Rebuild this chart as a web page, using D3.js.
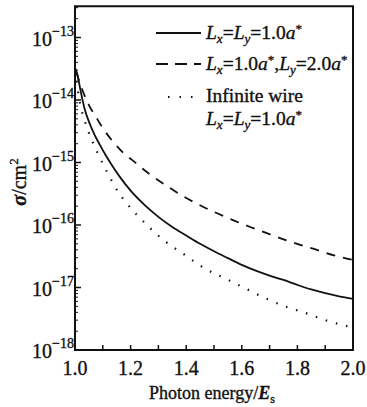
<!DOCTYPE html>
<html><head><meta charset="utf-8">
<script src="https://cdn.jsdelivr.net/npm/d3@7"></script>
<style>body{margin:0;background:#fff}svg{display:block}text{font-family:"Liberation Serif","Times New Roman",serif;fill:#111;stroke:#111;stroke-width:0.35px}</style>
</head><body>
<svg id="c" width="367" height="407"></svg>
<script>
const xTicks = [1.0, 1.2, 1.4, 1.6, 1.8, 2.0];
const yExps = [-18, -17, -16, -15, -14, -13];

const solidE = [1.002,1.01,1.02,1.035,1.05,1.07,1.09,1.11,1.13,1.16,1.2,1.25,1.3,1.35,1.4,1.45,1.5,1.55,1.6,1.65,1.7,1.75,1.8,1.85,1.9,1.95,2.0];
const solidV = [3.16e-14,2.4e-14,1.41e-14,7.1e-15,4.5e-15,2.8e-15,1.9e-15,1.32e-15,9.5e-16,6.0e-16,3.55e-16,2.1e-16,1.35e-16,9.3e-17,6.8e-17,5.0e-17,3.8e-17,2.95e-17,2.3e-17,1.86e-17,1.55e-17,1.32e-17,1.1e-17,9.3e-18,8.1e-18,7.2e-18,6.6e-18];

const dashE = [1.005,1.015,1.03,1.05,1.075,1.1,1.137,1.17,1.205,1.263,1.324,1.385,1.442,1.5,1.568,1.63,1.69,1.75,1.81,1.87,1.928,2.0];
const dashV = [2.8e-14,2.0e-14,1.32e-14,8.3e-15,5.4e-15,3.55e-15,2.15e-15,1.48e-15,1.1e-15,6.8e-16,4.4e-16,2.95e-16,2.15e-16,1.62e-16,1.2e-16,9.3e-17,7.4e-17,5.9e-17,4.8e-17,4.0e-17,3.3e-17,2.75e-17];

const dotE = [1.005,1.02,1.036,1.079,1.115,1.155,1.187,1.252,1.324,1.396,1.468,1.54,1.61,1.683,1.755,1.83,1.9,1.98];
const dotV = [2.0e-14,8e-15,4.5e-15,1.5e-15,7.1e-16,3.4e-16,2.2e-16,1.07e-16,5.5e-17,3.3e-17,2.0e-17,1.4e-17,9.8e-18,6.8e-18,5.0e-18,3.9e-18,3.0e-18,2.4e-18];

const legendLabels = ["Lx=Ly=1.0a*", "Lx=1.0a*,Ly=2.0a*", "Infinite wire", "Lx=Ly=1.0a*"];

const svg = d3.select("#c");
const L = 75, R = 353, T = 6.25, B = 350;
const x = d3.scaleLinear().domain([1.0, 2.0]).range([L, R]);
const y = d3.scaleLog().domain([1e-18, Math.pow(10, -12.5)]).range([B, T]);

// frame
svg.append("rect").attr("x", L).attr("y", T).attr("width", R - L).attr("height", B - T)
  .attr("fill", "none").attr("stroke", "#111").attr("stroke-width", 2);

// x axis ticks (inward)
const xt = d3.range(10, 20).map(d => d / 10);
svg.append("g").selectAll("line").data(xt).join("line")
  .attr("x1", d => x(d)).attr("x2", d => x(d)).attr("y1", B).attr("y2", B - 5)
  .attr("stroke", "#111").attr("stroke-width", 1.5);
svg.append("g").selectAll("text").data(xTicks).join("text")
  .attr("x", d => x(d)).attr("y", 375).attr("text-anchor", "middle")
  .attr("font-size", 20).text(d => d.toFixed(1));

// y axis ticks
const minor = [];
for (let e = -18; e < -12; e++) for (let m = 2; m <= 9; m++) { const v = m * Math.pow(10, e); if (v < Math.pow(10, -12.5)) minor.push(v); }
svg.append("g").selectAll("line").data(minor).join("line")
  .attr("x1", L).attr("x2", L + 3).attr("y1", d => y(d)).attr("y2", d => y(d))
  .attr("stroke", "#111").attr("stroke-width", 1);
svg.append("g").selectAll("line").data(yExps).join("line")
  .attr("x1", L).attr("x2", L + 6).attr("y1", d => y(Math.pow(10, d))).attr("y2", d => y(Math.pow(10, d)))
  .attr("stroke", "#111").attr("stroke-width", 1.5);
const yl = svg.append("g").selectAll("text").data(yExps).join("text")
  .attr("x", 32).attr("y", d => y(Math.pow(10, d)) + 8).attr("font-size", 20);
yl.append("tspan").text("10");
yl.append("tspan").attr("dy", -10).attr("font-size", 14).text(d => "\u2212" + Math.abs(d));

// curves
const line = d3.line().x(d => x(d[0])).y(d => y(d[1])).curve(d3.curveMonotoneX);
const series = [
  {E: solidE, V: solidV, dash: null, w: 1.8},
  {E: dashE, V: dashV, dash: "9,8", w: 1.8},
  {E: dotE, V: dotV, dash: "1.5,9", w: 2.2}
];
series.forEach(s => {
  svg.append("path").datum(s.E.map((e, i) => [e, s.V[i]]))
    .attr("d", line).attr("fill", "none").attr("stroke", "#111")
    .attr("stroke-width", s.w).attr("stroke-dasharray", s.dash);
});

// legend
const lg = svg.append("g");
lg.append("line").attr("x1", 156).attr("x2", 201).attr("y1", 33).attr("y2", 33).attr("stroke", "#111").attr("stroke-width", 1.8);
lg.append("line").attr("x1", 156).attr("x2", 201).attr("y1", 64).attr("y2", 64).attr("stroke", "#111").attr("stroke-width", 1.8).attr("stroke-dasharray", "12,7");
lg.append("line").attr("x1", 168).attr("x2", 201).attr("y1", 97).attr("y2", 97).attr("stroke", "#111").attr("stroke-width", 2.2).attr("stroke-dasharray", "1.5,10");

const fs = 19.5;
function rich(g, parts) {
  let shift = 0;
  parts.forEach(p => {
    const [txt, kind] = p;
    const t = g.append("tspan").text(txt);
    let target = 0;
    if (kind === "i") t.attr("font-style", "italic");
    if (kind === "sub") { t.attr("font-size", 13).attr("font-style", "italic"); target = 4; }
    if (kind === "sup") { t.attr("font-size", 13); target = -6; }
    const dy = target - shift;
    if (dy !== 0) t.attr("dy", dy);
    shift = target;
  });
}
const t1 = lg.append("text").attr("x", 206).attr("y", 39).attr("font-size", fs);
rich(t1, [["L","i"],["x","sub"],["=",""],["L","i"],["y","sub"],["=1.0",""],["a","i"],["*","sup"]]);
const t2 = lg.append("text").attr("x", 206).attr("y", 70).attr("font-size", fs);
rich(t2, [["L","i"],["x","sub"],["=1.0",""],["a","i"],["*","sup"],[",",""],["L","i"],["y","sub"],["=2.0",""],["a","i"],["*","sup"]]);
lg.append("text").attr("x", 206).attr("y", 102).attr("font-size", fs).text(legendLabels[2]);
const t4 = lg.append("text").attr("x", 206).attr("y", 125).attr("font-size", fs);
rich(t4, [["L","i"],["x","sub"],["=",""],["L","i"],["y","sub"],["=1.0",""],["a","i"],["*","sup"]]);

// axis titles
const xtT = svg.append("text").attr("x", 212).attr("y", 399).attr("text-anchor", "middle").attr("font-size", 18);
xtT.append("tspan").text("Photon energy/");
xtT.append("tspan").attr("font-style", "italic").attr("font-weight", "bold").text("E");
xtT.append("tspan").attr("font-size", 12).attr("dy", 4).text("s");

const ytT = svg.append("text").attr("transform", "translate(26,182) rotate(-90)").attr("text-anchor", "middle").attr("font-size", 20);
ytT.append("tspan").attr("font-style", "italic").attr("font-weight", "bold").text("\u03c3");
ytT.append("tspan").text("/cm");
ytT.append("tspan").attr("font-size", 13).attr("dy", -8).text("2");
</script>
</body></html>
